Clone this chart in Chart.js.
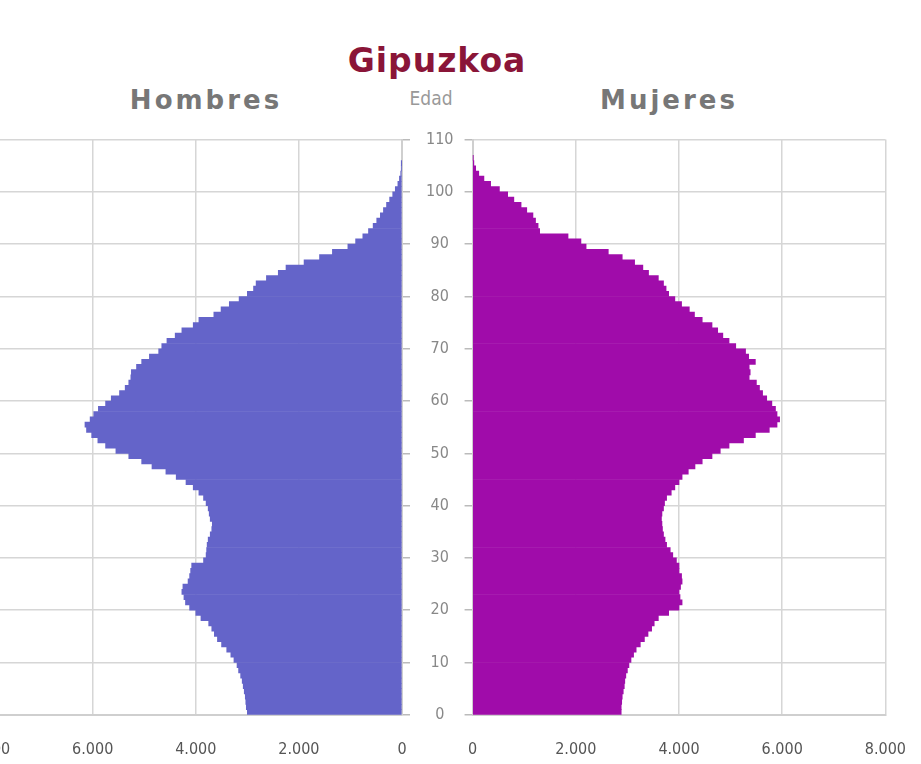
<!DOCTYPE html>
<html lang="es">
<head>
<meta charset="UTF-8">
<title>Gipuzkoa</title>
<script src="https://cdn.jsdelivr.net/npm/chart.js"></script>
<style>
    body { margin: 0; background: #fff; width: 921px; height: 764px; overflow: hidden; position: relative; }
    .txt { position: absolute; white-space: nowrap; transform: translate(-50%, -50%); }
    #title { left: 437px; top: 60px; font: bold 33px "DejaVu Sans", sans-serif; color: #8a1538; letter-spacing: 1px; }
    #hombres { left: 206px; top: 100px; font: bold 26px "DejaVu Sans", sans-serif; color: #777; letter-spacing: 3px; }
    #mujeres { left: 669px; top: 100px; font: bold 26px "DejaVu Sans", sans-serif; color: #777; letter-spacing: 3px; }
    #edad { left: 431px; top: 98px; font: 19px "Liberation Sans Narrow", "DejaVu Sans Condensed", sans-serif; color: #999; }
    canvas { position: absolute; }
    #left { left: -56px; top: 114px; }
    #right { left: 443px; top: 114px; }
</style>
</head>
<body>
<div class="txt" id="title">Gipuzkoa</div>
<div class="txt" id="hombres">Hombres</div>
<div class="txt" id="edad">Edad</div>
<div class="txt" id="mujeres">Mujeres</div>
<canvas id="left" width="528" height="670"></canvas>
<canvas id="right" width="488" height="670"></canvas>
<script>
// edad 0..105 (hombres) y 0..106 (mujeres), personas por año de edad
const hombres = [
    3000, 3020, 3030, 3040, 3060, 3080, 3100, 3130, 3170, 3200,
    3260, 3320, 3400, 3500, 3580, 3640, 3690, 3750, 3900, 4000,
    4120, 4200, 4230, 4270, 4250, 4150, 4120, 4100, 4080, 3850,
    3800, 3790, 3780, 3760, 3720, 3690, 3680, 3720, 3740, 3760,
    3800, 3850, 3940, 4050, 4190, 4380, 4580, 4850, 5050, 5300,
    5550, 5750, 5900, 6020, 6120, 6150, 6050, 5980, 5890, 5750,
    5640, 5480, 5370, 5300, 5260, 5250, 5150, 5050, 4900, 4720,
    4660, 4560, 4400, 4270, 4050, 3940, 3650, 3510, 3350, 3160,
    3000, 2880, 2830, 2630, 2400, 2250, 1900, 1600, 1350, 1050,
    900, 760, 650, 560, 490, 420, 360, 300, 240, 180,
    130, 80, 50, 25, 10, 5
];
const mujeres = [
    2880, 2880, 2890, 2900, 2920, 2940, 2950, 2970, 3000, 3030,
    3070, 3120, 3170, 3250, 3330, 3400, 3470, 3520, 3600, 3800,
    4000, 4060, 4020, 4000, 4030, 4060, 4050, 4000, 4000, 3950,
    3880, 3830, 3760, 3730, 3700, 3680, 3670, 3660, 3670, 3700,
    3720, 3760, 3850, 3920, 4000, 4060, 4180, 4310, 4450, 4640,
    4800, 4970, 5250, 5480, 5750, 5900, 5950, 5900, 5870, 5800,
    5700, 5620, 5560, 5500, 5360, 5380, 5360, 5480, 5350, 5290,
    5100, 4970, 4850, 4750, 4640, 4450, 4300, 4200, 4050, 3920,
    3800, 3750, 3700, 3600, 3410, 3300, 3140, 2900, 2630, 2200,
    2100, 1850, 1300, 1270, 1220, 1170, 1050, 940, 800, 680,
    520, 350, 220, 120, 60, 25, 5
];
const edadMax = 110;
const edadPaso = 10;
const poblacionMax = 8000;
const poblacionPaso = 2000;

const gridColor = '#d6d6d6';
const tickFont = { family: '"Liberation Sans Narrow", "DejaVu Sans Condensed", sans-serif', size: 16 };

function miles(v) {
    return String(v).replace(/\B(?=(\d{3})+(?!\d))/g, '.');
}

function puntos(arr) {
    return arr.map((v, i) => ({ x: v, y: i + 0.5 }));
}

function crearPiramide(id, datos, color, lado) {
    const esIzq = lado === 'izq';
    return new Chart(document.getElementById(id), {
        type: 'bar',
        data: {
            datasets: [{
                data: puntos(datos),
                backgroundColor: color,
                borderWidth: 0,
                barPercentage: 1,
                categoryPercentage: 1
            }]
        },
        options: {
            indexAxis: 'y',
            responsive: false,
            animation: false,
            plugins: { legend: { display: false }, tooltip: { enabled: false } },
            layout: { padding: 0 },
            scales: {
                x: {
                    type: 'linear',
                    reverse: esIzq,
                    min: 0,
                    max: poblacionMax,
                    ticks: { stepSize: poblacionPaso, color: '#555', font: tickFont, padding: 25, callback: v => miles(v) },
                    grid: { color: gridColor, lineWidth: 1.5, drawTicks: false },
                    border: { color: '#cfcfcf', width: 2 }
                },
                y: {
                    type: 'linear',
                    position: esIzq ? 'right' : 'left',
                    offset: false,
                    min: 0,
                    max: edadMax,
                    ticks: {
                        stepSize: edadPaso,
                        color: esIzq ? '#888' : 'rgba(0,0,0,0)',
                        font: tickFont,
                        padding: 16,
                        crossAlign: 'center'
                    },
                    grid: { offset: false, color: gridColor, lineWidth: 1.5, tickLength: 8, tickColor: '#bbb' },
                    border: { color: '#cfcfcf', width: 2 },
                    afterFit: s => { s.width = esIzq ? 70 : 8; }
                }
            }
        }
    });
}

crearPiramide('left', hombres, '#6464c9', 'izq');
crearPiramide('right', mujeres, '#a00caa', 'der');
</script>
</body>
</html>
